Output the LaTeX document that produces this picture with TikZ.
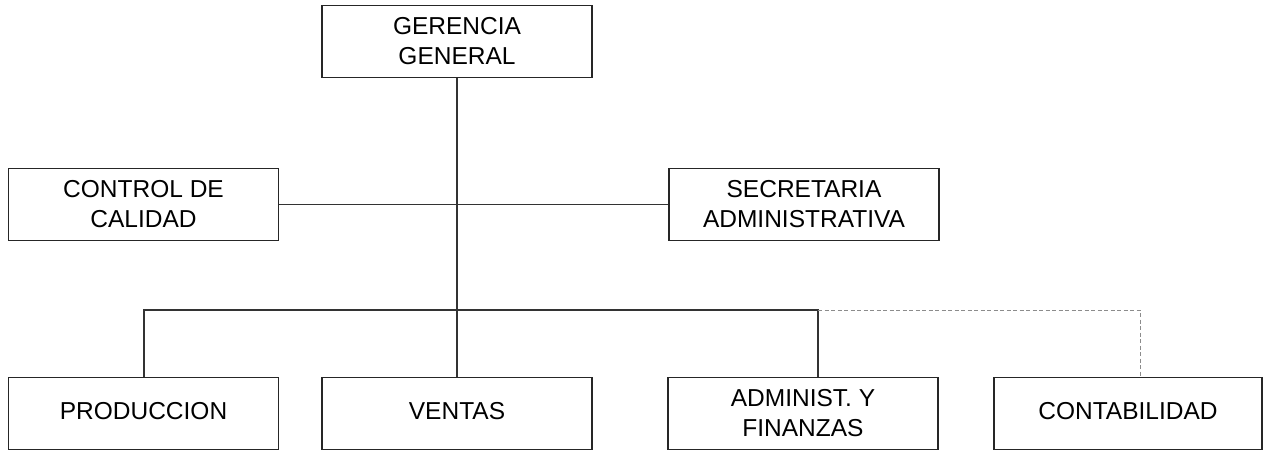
\documentclass[tikz,border=0pt]{standalone}
\usepackage{fontspec}
\setmainfont{Liberation Sans}
\begin{document}
\begin{tikzpicture}[x=1pt,y=-1pt,
  box/.style={draw=black!85,line width=1.4pt,minimum width=270pt,minimum height=72pt,
    inner sep=0pt,align=center,font=\fontsize{24.5}{30}\selectfont},
  link/.style={draw=black!80,line width=1.4pt},
  dlink/.style={draw=black!45,line width=1pt,dash pattern=on 4pt off 2.5pt}]
\useasboundingbox (0,0) rectangle (1267,450);
\node[box] (gg) at (457,41.5) {GERENCIA\\GENERAL};
\node[box] (cc) at (143.5,204.5) {CONTROL DE\\CALIDAD};
\node[box] (sa) at (804,204.5) {SECRETARIA\\ADMINISTRATIVA};
\node[box] (pr) at (143.5,413.5) {\raisebox{5pt}{PRODUCCION}};
\node[box] (ve) at (457,413.5) {\raisebox{5pt}{VENTAS}};
\node[box] (af) at (803,413.5) {ADMINIST. Y\\FINANZAS};
\node[box,minimum width=268pt] (co) at (1128,413.5) {\raisebox{5pt}{CONTABILIDAD}};
\coordinate (hubL) at (144,310);
\coordinate (hubR) at (818,310);
\coordinate (hubD) at (1140,310);
\draw[link] (gg.south) -- (ve.north);
\draw[link] (cc.east) -- (sa.west);
\draw[link] (hubL |- pr.north) -- (hubL) -- (hubR) -- (hubR |- af.north);
\draw[dlink] (hubR) -- (hubD) -- (hubD |- co.north);
\end{tikzpicture}
\end{document}
